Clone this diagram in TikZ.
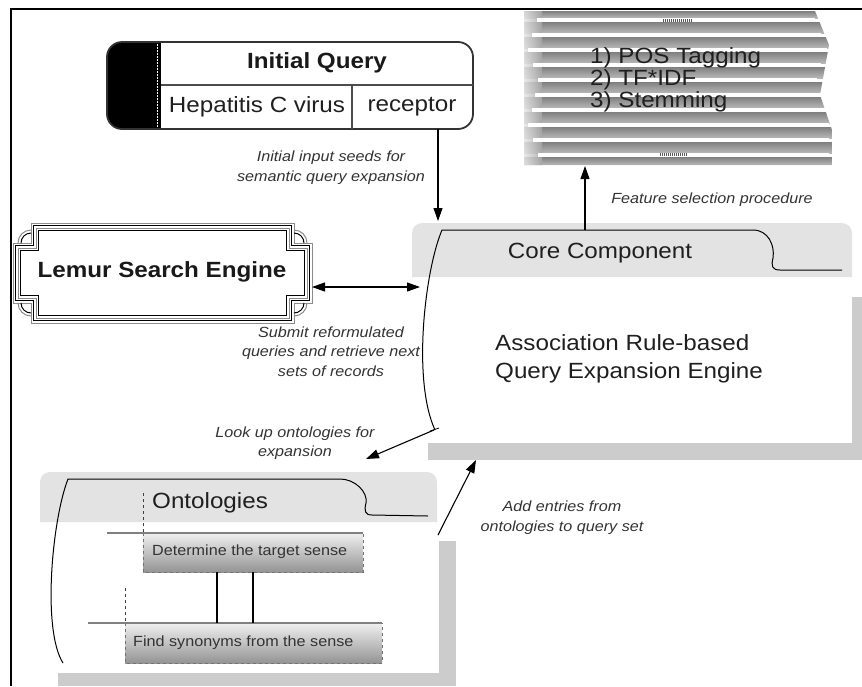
\documentclass[tikz,border=0pt]{standalone}
\usepackage{fontspec}
\setmainfont{Liberation Sans}[FakeStretch=1.1]
\usetikzlibrary{arrows.meta}
\newcommand{\bigtxt}{\fontsize{22}{26}\selectfont}
\newcommand{\smtxt}{\fontsize{14.7}{19.5}\selectfont}
\begin{document}
\begin{tikzpicture}[x=1pt,y=-1pt,
  lab/.style={font=\smtxt\itshape, text=black!80, align=center, inner sep=0pt},
  big/.style={font=\bigtxt, text=black!88, inner sep=0pt},
  bigb/.style={font=\bigtxt\bfseries, text=black!90, inner sep=0pt},
  reg/.style={font=\smtxt, text=black!80, inner sep=0pt},
  arr/.style={-{Triangle[length=13pt,width=9pt]}, line width=1.1pt},
  darr/.style={{Triangle[length=13pt,width=9pt]}-{Triangle[length=13pt,width=9pt]}, line width=1.1pt},
  shadowbar/.style={fill=black!20},
  tabfill/.style={fill=black!11},
  outl/.style={line width=1pt, black},
]
\useasboundingbox (0,0) rectangle (862,686);

% outer frame
\draw[line width=2pt] (11,686) -- (11,9) -- (862,9);

% ---------- TF*IDF striped box ----------
\begin{scope}
\clip (524,11) -- (815,11) -- (829,45) -- (820,95) -- (832,130) -- (832,165) -- (524,165) -- cycle;
\foreach \ya/\yb in {11/18, 22/33, 37/48, 52/63, 67/78, 82/93, 97/108, 112/123, 127/138, 142/153, 157/165}
  \shade[top color=black!50, bottom color=black!28] (524,\ya) rectangle (832,\yb);
\shade[left color=black!10, right color=black!35, opacity=0.85] (524,11) rectangle (542,165);
\end{scope}
\foreach \y/\xl/\xr in {20/537/815, 35/532/821, 50/528/827, 65/533/821, 80/538/817, 95/535/821, 110/532/826, 125/528/829, 140/533/829, 155/538/829}
  \fill[white] (\xl,{\y-2}) rectangle (\xr,{\y+2});
\draw[black!65, line width=3pt, dash pattern=on 1pt off 1pt] (663,20) -- (692,20);
\draw[black!65, line width=3pt, dash pattern=on 1pt off 1pt] (660,154) -- (688,154);
\node[big, anchor=west] (pos) at (590,58) {1) POS Tagging};
\node[big, anchor=west] (tfidf) at (590,80) {2) TF*IDF};
\node[big, anchor=west] (stem) at (590,102) {3) Stemming};

% ---------- Initial Query ----------
\begin{scope}
\clip[rounded corners=15pt] (107,42) rectangle (473,129);
\fill[black] (107,42) rectangle (161,129);
\end{scope}
\draw[white, line width=1.8pt, dash pattern=on 1.5pt off 1.5pt] (157.5,44) -- (157.5,127);
\draw[black!80, line width=1.8pt, rounded corners=15pt] (107,42) rectangle (473,129);
\draw[black!70, line width=1.5pt] (161,85) -- (473,85) (352,85) -- (352,129);
\node[bigb] (iqtitle) at (317,63) {Initial Query};
\node[big] (hep) at (257,107) {Hepatitis C virus};
\node[big] (rec) at (412,107) {receptor};

% ---------- Lemur Search Engine ----------
\foreach \d/\c/\w in {0/black!45/1, 2.5/black/1, 5/black!45/1, 7.5/black/1.2}
  \draw[\c, line width=\w] ({31+\d},{223+\d}) -- ({294-\d},{223+\d}) -- ({294-\d},{243+\d}) -- ({312-\d},{243+\d}) -- ({312-\d},{303-\d}) -- ({294-\d},{303-\d}) -- ({294-\d},{323-\d}) -- ({31+\d},{323-\d}) -- ({31+\d},{303-\d}) -- ({13+\d},{303-\d}) -- ({13+\d},{243+\d}) -- ({31+\d},{243+\d}) -- cycle;
\foreach \cx/\cy/\sx/\sy in {31/243/-1/-1, 294/243/1/-1, 31/303/-1/1, 294/303/1/1}
  \foreach \r/\c in {13/black!45, 10/black}
    \draw[\c, line width=1] ({\cx+(\sx)*\r},\cy) .. controls ({\cx+(\sx)*\r},{\cy+(\sy)*0.552*\r}) and ({\cx+(\sx)*0.552*\r},{\cy+(\sy)*\r}) .. (\cx,{\cy+(\sy)*\r});
\node[bigb] (lemur) at (162,272) {Lemur Search Engine};

% ---------- Core Component ----------
\fill[tabfill] (412,277) -- (412,233) .. controls (412,227.5) and (416.5,223) .. (422,223) -- (842,223) .. controls (847.5,223) and (852,227.5) .. (852,233) -- (852,277) -- cycle;
\fill[shadowbar] (852,297) rectangle (862,460);
\fill[shadowbar] (428,443) rectangle (862,460);
\draw[outl] (435,430) .. controls (412,380) and (425,270) .. (442,230) -- (753,230) .. controls (768,230) and (775,245) .. (773,258) .. controls (771,266) and (772,270) .. (780,270) -- (842,270);
\draw[line width=0.8pt] (430,431) -- (439,428);
\node[big] (core) at (600,253) {Core Component};
\node[big, anchor=west] (assoc1) at (495,343) {Association Rule-based};
\node[big, anchor=west] (assoc2) at (495,373) {Query Expansion Engine};

% ---------- Ontologies ----------
\fill[tabfill] (40,522) -- (40,482) .. controls (40,476.5) and (44.5,472) .. (50,472) -- (427,472) .. controls (432.5,472) and (437,476.5) .. (437,482) -- (437,522) -- cycle;
\fill[shadowbar] (439,541) rectangle (456,686);
\fill[shadowbar] (58,673) rectangle (456,686);
\draw[outl] (63,663) .. controls (42,630) and (52,520) .. (68,479) -- (340,479) .. controls (355,479) and (368,492) .. (366,503) .. controls (364,511) and (365,515) .. (372,515) -- (428,516);
\node[big, anchor=west] (onto) at (152,503) {Ontologies};
\draw[black!75, line width=1pt, dashed] (143,493) -- (143,533);

\shade[top color=black!6, bottom color=black!42] (143,533) rectangle (363,572);
\draw[black!55, line width=1pt, dashed] (143,533) -- (143,572) -- (363,572) -- (363,533);
\draw[black!50, line width=1.6pt] (107,533) -- (363,533);
\node[reg, anchor=west] (sense) at (152,552) {Determine the target sense};

\shade[top color=black!6, bottom color=black!42] (125,623) rectangle (382,663);
\draw[black!55, line width=1pt, dashed] (125,623) -- (125,663) -- (382,663) -- (382,623);
\draw[black!75, line width=1pt, dashed] (125,588) -- (125,623);
\draw[black!50, line width=1.6pt] (88,623) -- (382,623);
\node[reg, anchor=west] (syn) at (133,643) {Find synonyms from the sense};

\draw[line width=1.5pt] (217,572) -- (217,623) (253,572) -- (253,623);

% ---------- connectors ----------
\coordinate (iqout) at (438,129);
\coordinate (corein) at (438,221);
\draw[arr] (iqout) -- (corein);
\coordinate (coretop) at (585,230);
\coordinate (tfbot) at (585,166);
\draw[arr] (coretop) -- (tfbot);
\coordinate (lemr) at (312,287);
\coordinate (corel) at (420,287);
\draw[darr] (lemr) -- (corel);
\coordinate (corebl) at (434,430);
\coordinate (ontin) at (366,459);
\draw[arr] (corebl) -- (ontin);
\coordinate (ontout) at (438,535);
\coordinate (corebot) at (476,460);
\draw[arr] (ontout) -- (corebot);

% ---------- labels ----------
\node[lab] (l1) at (331,167.5) {Initial input seeds for\\semantic query expansion};
\node[lab] (l2) at (712,200) {Feature selection procedure};
\node[lab] (l3) at (331,351.5) {Submit reformulated\\queries and retrieve next\\sets of records};
\node[lab] (l4) at (295,443) {Look up ontologies for\\expansion};
\node[lab] (l5) at (562,517.5) {Add entries from\\ontologies to query set};
\end{tikzpicture}
\end{document}
